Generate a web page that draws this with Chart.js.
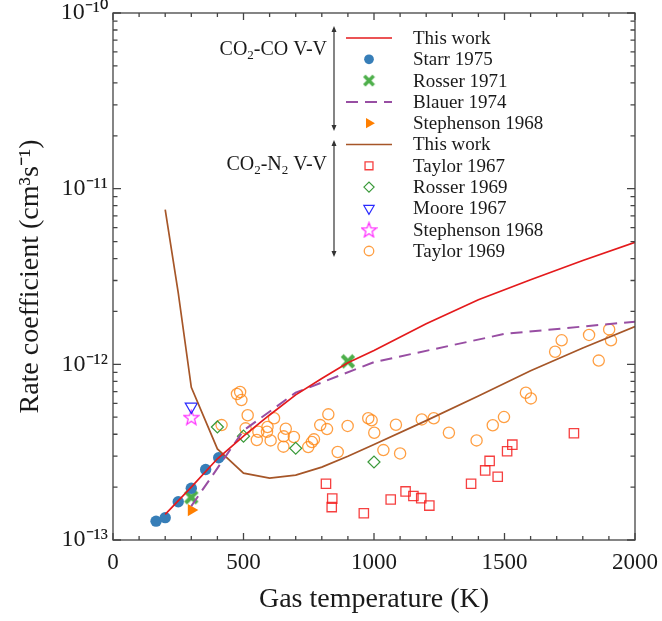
<!DOCTYPE html>
<html><head><meta charset="utf-8">
<script src="https://cdn.jsdelivr.net/npm/chart.js@4.4.1/dist/chart.umd.min.js"></script>
<style>html,body{margin:0;padding:0;background:#fff}#wrap{width:662px;height:621px;position:relative}</style>
</head><body><div id="wrap"><canvas id="c" width="662" height="621"></canvas></div>
<script>
const SERIF = '"Liberation Serif","Times New Roman",Times,serif';

// ---- axis ticks ----
const xTickValues = [0, 500, 1000, 1500, 2000];
const xTickLabels = ['0', '500', '1000', '1500', '2000'];
const yTickValues = [1e-13, 1e-12, 1e-11, 1e-10];
const yTickLabels = ['10\u207B\u00B9\u00B3', '10\u207B\u00B9\u00B2', '10\u207B\u00B9\u00B9', '10\u207B\u00B9\u2070'];

// ---- CO2-CO V-V ----
const coThisWorkT = [200, 300, 400, 500, 600, 700, 800, 900, 1000, 1200, 1400, 1600, 1800, 2000];
const coThisWorkK = [1.40e-13, 2.0e-13, 2.9e-13, 3.9e-13, 5.15e-13, 6.7e-13, 8.3e-13, 1.02e-12, 1.2e-12, 1.7e-12, 2.33e-12, 3.03e-12, 3.9e-12, 4.95e-12];
const starr1975T = [165, 200, 250, 300, 355, 405];
const starr1975K = [1.28e-13, 1.34e-13, 1.65e-13, 1.97e-13, 2.52e-13, 2.94e-13];
const rosser1971T = [300, 900];
const rosser1971K = [1.75e-13, 1.04e-12];
const blauer1974T = [300, 500, 700, 1000, 1500, 2000];
const blauer1974K = [1.56e-13, 4.2e-13, 6.9e-13, 1.03e-12, 1.49e-12, 1.75e-12];
const stephensonCOT = [300];
const stephensonCOK = [1.48e-13];

// ---- CO2-N2 V-V ----
const n2ThisWorkT = [200, 250, 300, 400, 500, 600, 700, 800, 900, 1000, 1200, 1400, 1600, 1800, 2000];
const n2ThisWorkK = [7.6e-12, 2.55e-12, 7.4e-13, 3.3e-13, 2.4e-13, 2.25e-13, 2.34e-13, 2.6e-13, 3.0e-13, 3.5e-13, 4.78e-13, 6.6e-13, 9.2e-13, 1.24e-12, 1.64e-12];
const taylor1967T = [816, 840, 838, 961, 1064, 1121, 1151, 1181, 1212, 1372, 1426, 1443, 1474, 1510, 1530, 1766];
const taylor1967K = [2.09e-13, 1.72e-13, 1.54e-13, 1.42e-13, 1.70e-13, 1.89e-13, 1.78e-13, 1.73e-13, 1.57e-13, 2.09e-13, 2.49e-13, 2.82e-13, 2.29e-13, 3.20e-13, 3.49e-13, 4.05e-13];
const rosser1969T = [400, 500, 700, 1000];
const rosser1969K = [4.4e-13, 3.9e-13, 3.33e-13, 2.78e-13];
const moore1967T = [300];
const moore1967K = [5.75e-13];
const stephensonN2T = [300];
const stephensonN2K = [5.0e-13];
const taylor1969T = [475, 487, 492, 416, 516, 617, 508, 557, 551, 592, 590, 604, 662, 654, 653, 693, 770, 762, 748, 825, 794, 820, 899, 861,
  978, 991, 1001, 1084, 1183, 1229, 1287, 1393, 1036, 1100, 1455, 1498, 1582, 1601, 1694, 1719, 1824, 1901, 1908, 1861];
const taylor1969K = [6.78e-13, 6.96e-13, 6.26e-13, 4.51e-13, 5.13e-13, 4.93e-13, 4.32e-13, 4.13e-13, 3.71e-13, 4.40e-13, 4.13e-13, 3.69e-13, 4.30e-13, 3.89e-13, 3.40e-13, 3.86e-13, 3.74e-13, 3.61e-13, 3.38e-13, 5.19e-13, 4.51e-13, 4.28e-13, 4.46e-13, 3.17e-13,
  4.93e-13, 4.80e-13, 4.08e-13, 4.53e-13, 4.86e-13, 4.93e-13, 4.08e-13, 3.69e-13, 3.25e-13, 3.11e-13, 4.50e-13, 5.01e-13, 6.89e-13, 6.40e-13, 1.18e-12, 1.37e-12, 1.47e-12, 1.58e-12, 1.37e-12, 1.05e-12];

const pts = (T, K) => T.map((t, i) => ({x: t, y: K[i]}));

// custom marker images
function makeX(color, s) {
  const c = document.createElement('canvas'); c.width = s; c.height = s;
  const g = c.getContext('2d'); const h = s / 2, a = s * 0.36;
  g.translate(h, h); g.strokeStyle = color; g.lineWidth = s * 0.26; g.lineCap = 'butt';
  g.beginPath(); g.moveTo(-a, -a); g.lineTo(a, a); g.moveTo(a, -a); g.lineTo(-a, a); g.stroke();
  return c;
}
function makeStar(color, s) {
  const c = document.createElement('canvas'); c.width = s; c.height = s;
  const g = c.getContext('2d'); const h = s / 2, R = s * 0.46, r = R * 0.42;
  g.translate(h, h + 0.8); g.strokeStyle = color; g.lineWidth = 1.2; g.beginPath();
  for (let k = 0; k < 10; k++) {
    const ang = -Math.PI / 2 + k * Math.PI / 5; const rr = k % 2 ? r : R;
    const X = Math.cos(ang) * rr, Y = Math.sin(ang) * rr;
    k ? g.lineTo(X, Y) : g.moveTo(X, Y);
  }
  g.closePath(); g.stroke();
  return c;
}
const xImg = makeX('#4daf4a', 16);
const xImgSmall = makeX('#4daf4a', 13);
const starImg = makeStar('#ff22ff', 17);

function lineDs(label, T, K, color, dash) {
  return {label, data: pts(T, K), showLine: true, borderColor: color, borderWidth: dash ? 2 : 1.7,
    borderDash: dash || [], pointRadius: 0, fill: false, order: 0};
}
function markDs(label, T, K, style, fillC, edgeC, r, bw, rot) {
  return {label, data: pts(T, K), showLine: false, pointStyle: style, pointBackgroundColor: fillC,
    pointBorderColor: edgeC, pointRadius: r, pointBorderWidth: bw, pointRotation: rot || 0, order: 1};
}

const datasets = [
  lineDs('This work', coThisWorkT, coThisWorkK, '#e41a1c'),
  markDs('Starr 1975', starr1975T, starr1975K, 'circle', '#377eb8', '#377eb8', 5.7, 0),
  markDs('Rosser 1971', rosser1971T, rosser1971K, xImg, '#4daf4a', '#4daf4a', 8, 0),
  lineDs('Blauer 1974', blauer1974T, blauer1974K, '#984ea3', [12, 7]),
  markDs('Stephenson 1968', stephensonCOT, stephensonCOK, 'triangle', '#ff7f00', '#ff7f00', 7, 0, 90),
  lineDs('This work', n2ThisWorkT, n2ThisWorkK, '#a65628'),
  markDs('Taylor 1967', taylor1967T, taylor1967K, 'rect', 'rgba(0,0,0,0)', 'rgba(245,30,30,0.85)', 6.6, 1.3),
  markDs('Rosser 1969', rosser1969T, rosser1969K, 'rectRot', 'rgba(0,0,0,0)', '#3a9a3a', 6, 1.2),
  markDs('Moore 1967', moore1967T, moore1967K, 'triangle', 'rgba(0,0,0,0)', '#2a2aff', 7, 1.2, 180),
  markDs('Stephenson 1968', stephensonN2T, stephensonN2K, starImg, 'rgba(0,0,0,0)', '#ff22ff', 8, 1.2),
  markDs('Taylor 1969', taylor1969T, taylor1969K, 'circle', 'rgba(0,0,0,0)', 'rgba(255,135,20,0.8)', 5.6, 1.3)
];

const framePlugin = {
  id: 'frame',
  afterDatasetsDraw(chart) {
    const {ctx, chartArea: {left, right, top, bottom}, scales: {x, y}} = chart;
    ctx.save();
    ctx.strokeStyle = '#444'; ctx.lineWidth = 1.3;
    ctx.strokeRect(left, top, right - left, bottom - top);
    ctx.beginPath();
    for (let v = 0; v <= 2000; v += 100) {
      const px = x.getPixelForValue(v); const L = v % 500 === 0 ? 7 : 4;
      ctx.moveTo(px, bottom); ctx.lineTo(px, bottom - L);
      ctx.moveTo(px, top); ctx.lineTo(px, top + L);
    }
    for (let e = -13; e <= -10; e++) {
      for (let m = 1; m <= 9; m++) {
        if (e === -10 && m > 1) break;
        const py = y.getPixelForValue(m * Math.pow(10, e)); const L = m === 1 ? 8 : 4.5;
        ctx.moveTo(left, py); ctx.lineTo(left + L, py);
        ctx.moveTo(right, py); ctx.lineTo(right - L, py);
      }
    }
    ctx.stroke(); ctx.restore();
  }
};

function drawSubText(ctx, parts, xRight, y, size) {
  const big = size + 'px ' + SERIF, small = Math.round(size * 0.65) + 'px ' + SERIF;
  let total = 0;
  parts.forEach(p => { ctx.font = p[1] ? small : big; total += ctx.measureText(p[0]).width; });
  let x = xRight - total;
  parts.forEach(p => {
    ctx.font = p[1] ? small : big;
    ctx.fillText(p[0], x, p[1] ? y + size * 0.28 : y);
    x += ctx.measureText(p[0]).width;
  });
}
function drawBracket(ctx, x, y1, y2) {
  ctx.beginPath(); ctx.moveTo(x, y1 + 2); ctx.lineTo(x, y2 - 2); ctx.stroke();
  ctx.beginPath(); ctx.moveTo(x, y1); ctx.lineTo(x - 2.5, y1 + 6); ctx.lineTo(x + 2.5, y1 + 6); ctx.closePath(); ctx.fill();
  ctx.beginPath(); ctx.moveTo(x, y2); ctx.lineTo(x - 2.5, y2 - 6); ctx.lineTo(x + 2.5, y2 - 6); ctx.closePath(); ctx.fill();
}

const legendPlugin = {
  id: 'bracketLegend',
  afterDraw(chart) {
    const ctx = chart.ctx;
    const y0 = 38, dy = 21.3, lx1 = 346, lx2 = 392, mx = 369, tx = 413;
    ctx.save();
    chart.data.datasets.forEach((ds, i) => {
      const y = y0 + i * dy;
      ctx.save();
      if (ds.showLine) {
        ctx.strokeStyle = ds.borderColor; ctx.lineWidth = ds.borderWidth; ctx.setLineDash(ds.borderDash || []);
        ctx.beginPath(); ctx.moveTo(lx1, y); ctx.lineTo(lx2, y); ctx.stroke();
      } else {
        const style = ds.pointStyle === xImg ? xImgSmall : ds.pointStyle;
        ctx.fillStyle = ds.pointBackgroundColor; ctx.strokeStyle = ds.pointBorderColor; ctx.lineWidth = ds.pointBorderWidth;
        Chart.helpers.drawPoint(ctx, {pointStyle: style, rotation: ds.pointRotation || 0,
          radius: ds.pointRadius * 0.85, borderWidth: ds.pointBorderWidth}, mx, y);
      }
      ctx.restore();
      ctx.fillStyle = '#1a1a1a'; ctx.font = '19px ' + SERIF; ctx.textBaseline = 'middle'; ctx.textAlign = 'left';
      ctx.fillText(ds.label, tx, y + 1);
    });
    ctx.strokeStyle = '#333'; ctx.fillStyle = '#333'; ctx.lineWidth = 1.2;
    drawBracket(ctx, 334, 26, 131);
    drawBracket(ctx, 334, 140, 257);
    ctx.fillStyle = '#1a1a1a'; ctx.textBaseline = 'middle'; ctx.textAlign = 'left';
    drawSubText(ctx, [['CO', false], ['2', true], ['-CO V-V', false]], 327, 50, 20);
    drawSubText(ctx, [['CO', false], ['2', true], ['-N', false], ['2', true], [' V-V', false]], 327, 165, 20);
    ctx.restore();
  }
};

Chart.defaults.font.family = SERIF;
Chart.defaults.color = '#1a1a1a';

new Chart(document.getElementById('c'), {
  type: 'scatter',
  data: {datasets},
  plugins: [framePlugin, legendPlugin],
  options: {
    responsive: false, animation: false, devicePixelRatio: 1,
    layout: {padding: {left: 0, right: 27, top: 13, bottom: 0}},
    plugins: {legend: {display: false}, tooltip: {enabled: false}},
    scales: {
      x: {
        type: 'linear', min: 0, max: 2000,
        grid: {display: false, drawTicks: false}, border: {display: false},
        afterBuildTicks: s => { s.ticks = xTickValues.map(v => ({value: v})); },
        ticks: {font: {size: 23}, color: '#1a1a1a', padding: 9, maxRotation: 0,
          callback: (v, i) => xTickLabels[i]},
        title: {display: true, text: 'Gas temperature (K)', font: {size: 28}, color: '#1a1a1a', padding: {top: 0, bottom: 5}},
        afterFit: s => { s.height = 81; s.paddingLeft = 0; s.paddingRight = 0; }
      },
      y: {
        type: 'logarithmic', min: 1e-13, max: 1e-10,
        grid: {display: false, drawTicks: false}, border: {display: false},
        afterBuildTicks: s => { s.ticks = yTickValues.map(v => ({value: v})); },
        ticks: {font: {size: 24}, color: '#1a1a1a', padding: 5,
          callback: (v, i) => yTickLabels[i]},
        title: {display: true, text: 'Rate coefficient (cm\u00B3s\u207B\u00B9)', font: {size: 28}, color: '#1a1a1a', padding: {top: 14, bottom: 0}},
        afterFit: s => { s.width = 113; s.paddingTop = 0; s.paddingBottom = 0; }
      }
    }
  }
});
</script></body></html>
